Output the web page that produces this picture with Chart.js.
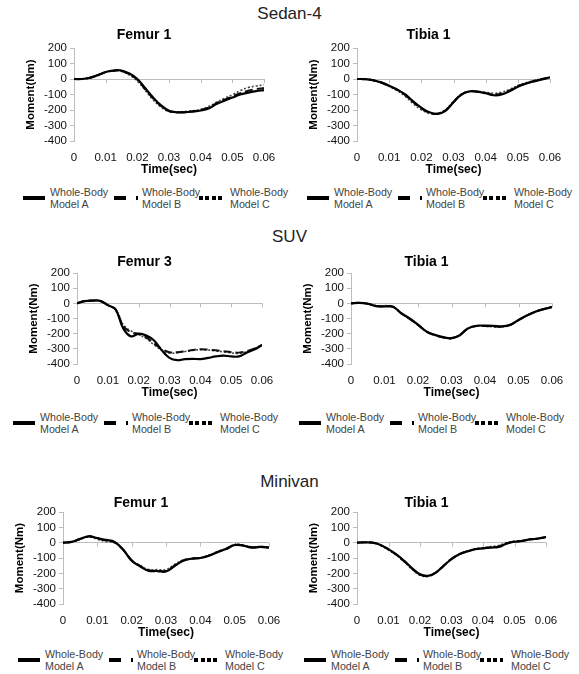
<!DOCTYPE html>
<html>
<head>
<meta charset="utf-8">
<script src="https://cdn.jsdelivr.net/npm/chart.js@4.4.1/dist/chart.umd.min.js"></script>
<style>
  body { margin: 0; background: #fff; width: 579px; height: 674px; position: relative; overflow: hidden;
         font-family: "Liberation Sans", Arial, sans-serif; }
  .group { position: absolute; left: 0; width: 579px; text-align: center; font-size: 17px; line-height: 20px; color: #222; }
  canvas { position: absolute; }
  .legend { position: absolute; font-size: 10.7px; line-height: 12px; color: #444; white-space: nowrap; }
  .legend .txt { position: absolute; top: 0; }
  .legend .sw { position: absolute; top: 10px; height: 4px; }
</style>
</head>
<body>
<script>
// time axis (sec) shared by every panel
const timeSec = [0, 0.0025, 0.005, 0.0075, 0.01, 0.0125, 0.015, 0.0175, 0.02, 0.0225, 0.025, 0.0275,
                 0.03, 0.0325, 0.035, 0.0375, 0.04, 0.0425, 0.045, 0.0475, 0.05, 0.0525, 0.055, 0.0575, 0.06];
const xTickValues = [0, 0.01, 0.02, 0.03, 0.04, 0.05, 0.06];
const xTickLabels = ['0', '0.01', '0.02', '0.03', '0.04', '0.05', '0.06'];
const yTickValues = [200, 100, 0, -100, -200, -300, -400];

const seriesLines = [['Whole-Body', 'Model A'], ['Whole-Body', 'Model B'], ['Whole-Body', 'Model C']];
const groupTitles = ['Sedan-4', 'SUV', 'Minivan'];
const panelTitles = ['Femur 1', 'Tibia 1', 'Femur 3', 'Tibia 1', 'Femur 1', 'Tibia 1'];

// moment (Nm)
const sedanFemurA = [0, 0, 8, 25, 45, 55, 55, 35, 0, -60, -120, -170, -205, -215, -215, -210, -203, -190, -162, -140, -120, -100, -88, -78, -72];
const sedanFemurB = [0, 0, 8, 24, 44, 53, 52, 30, -5, -66, -126, -174, -207, -215, -213, -208, -200, -185, -156, -133, -112, -92, -76, -66, -58];
const sedanFemurC = [0, 0, 7, 23, 43, 52, 50, 25, -12, -74, -134, -182, -210, -214, -210, -205, -196, -178, -150, -125, -102, -75, -55, -45, -38];

const sedanTibiaA = [0, -1, -8, -22, -43, -68, -100, -145, -185, -215, -225, -205, -150, -100, -80, -82, -92, -105, -100, -78, -50, -30, -15, -2, 10];
const sedanTibiaB = [0, -1, -8, -23, -45, -70, -103, -150, -190, -218, -224, -202, -148, -100, -80, -82, -90, -100, -95, -74, -47, -28, -13, 0, 10];
const sedanTibiaC = [0, -1, -9, -25, -48, -76, -112, -160, -198, -222, -222, -198, -145, -98, -80, -80, -86, -92, -85, -66, -42, -25, -10, 2, 12];

const suvFemurA = [0, 15, 18, 16, -12, -40, -165, -218, -200, -212, -245, -310, -360, -375, -368, -366, -368, -360, -350, -345, -350, -350, -325, -305, -275];
const suvFemurB = [0, 15, 18, 16, -12, -40, -150, -190, -202, -225, -265, -300, -322, -322, -316, -308, -302, -305, -310, -316, -322, -325, -316, -298, -275];
const suvFemurC = [0, 15, 18, 16, -12, -40, -140, -182, -206, -232, -274, -308, -328, -326, -318, -310, -305, -308, -313, -320, -327, -330, -320, -300, -275];

const suvTibiaA = [0, 3, -3, -18, -20, -22, -65, -100, -140, -185, -208, -223, -230, -210, -165, -148, -147, -148, -152, -142, -110, -80, -55, -38, -25];
const suvTibiaB = [0, 3, -3, -17, -21, -22, -66, -102, -142, -186, -210, -225, -230, -208, -163, -150, -150, -152, -154, -142, -110, -80, -56, -38, -24];
const suvTibiaC = [0, 3, -2, -16, -21, -23, -68, -104, -144, -188, -210, -224, -228, -206, -162, -148, -150, -155, -156, -144, -112, -80, -55, -36, -22];

const minivanFemurA = [0, 5, 25, 42, 30, 18, 5, -45, -117, -155, -184, -185, -188, -152, -118, -105, -100, -85, -62, -42, -15, -20, -32, -28, -33];
const minivanFemurB = [0, 5, 24, 40, 28, 14, 2, -45, -115, -152, -180, -182, -184, -150, -116, -104, -100, -84, -60, -40, -14, -18, -30, -27, -30];
const minivanFemurC = [0, 4, 22, 38, 22, 8, 0, -48, -115, -150, -176, -176, -176, -142, -112, -102, -98, -82, -58, -38, -12, -16, -28, -25, -30];

const minivanTibiaA = [0, 2, 0, -15, -43, -76, -119, -167, -206, -216, -195, -151, -108, -76, -58, -43, -37, -32, -28, -6, 6, 11, 22, 26, 37];
const minivanTibiaB = [0, 2, 0, -16, -45, -79, -122, -170, -208, -218, -196, -150, -106, -75, -56, -42, -36, -30, -24, -4, 7, 12, 22, 27, 36];
const minivanTibiaC = [0, 2, -1, -18, -48, -82, -126, -174, -212, -220, -194, -148, -104, -72, -54, -40, -33, -26, -18, 0, 10, 14, 24, 28, 38];

const panelSeries = [
  [sedanFemurA, sedanFemurB, sedanFemurC],
  [sedanTibiaA, sedanTibiaB, sedanTibiaC],
  [suvFemurA, suvFemurB, suvFemurC],
  [suvTibiaA, suvTibiaB, suvTibiaC],
  [minivanFemurA, minivanFemurB, minivanFemurC],
  [minivanTibiaA, minivanTibiaB, minivanTibiaC]
];

// page layout: plot box edges, title gap, legend spot
const groupTop = [4, 227, 472];
const panelBoxes = [
  { L: 74, R: 264, T: 48, B: 141, gap: 13, legX: 23, legY: 186 },
  { L: 357, R: 550, T: 48, B: 141, gap: 13, legX: 307, legY: 186 },
  { L: 77, R: 262, T: 273, B: 364, gap: 11, legX: 13, legY: 411 },
  { L: 351, R: 552, T: 273, B: 364, gap: 11, legX: 299, legY: 411 },
  { L: 63, R: 269, T: 512, B: 604, gap: 9, legX: 18, legY: 648 },
  { L: 357, R: 546, T: 512, B: 604, gap: 9, legX: 304, legY: 648 }
];
const Y_AXIS_W = 50, X_AXIS_H = 36, PAD_RIGHT = 16, TITLE_LH = 16.8;

const lineStyles = [
  { borderColor: '#000', borderWidth: 2.2, borderDash: [] },
  { borderColor: '#111', borderWidth: 2, borderDash: [8, 4] },
  { borderColor: '#444', borderWidth: 1.6, borderDash: [2, 2] }
];

// little tick marks hanging off the zero line, like Excel's crossing axis
const zeroTicks = {
  id: 'zeroTicks',
  beforeDatasetsDraw(chart) {
    const ctx = chart.ctx, xs = chart.scales.x, ys = chart.scales.y;
    const y0 = ys.getPixelForValue(0);
    ctx.save();
    ctx.strokeStyle = '#bdbdbd';
    ctx.lineWidth = 1;
    xTickValues.forEach(v => {
      const x = Math.round(xs.getPixelForValue(v)) + 0.5;
      ctx.beginPath();
      ctx.moveTo(x, y0);
      ctx.lineTo(x, y0 + 4);
      ctx.stroke();
    });
    ctx.restore();
  }
};

groupTitles.forEach((t, i) => {
  const d = document.createElement('div');
  d.className = 'group';
  d.style.top = groupTop[i] + 'px';
  d.textContent = t;
  document.body.appendChild(d);
});

function makeLegend(box) {
  const leg = document.createElement('div');
  leg.className = 'legend';
  leg.style.left = box.legX + 'px';
  leg.style.top = box.legY + 'px';
  const swX = [0, 91, 176], txtX = [27, 119, 207];
  seriesLines.forEach((lines, i) => {
    const sw = document.createElement('div');
    sw.className = 'sw';
    sw.style.left = swX[i] + 'px';
    if (i === 0) {
      sw.style.width = '22px';
      sw.style.background = '#000';
    } else if (i === 1) {
      sw.style.width = '24px';
      sw.style.background = 'linear-gradient(90deg,#000 0 12px,transparent 12px 22px,#000 22px 24px)';
    } else {
      sw.style.width = '23px';
      sw.style.background = 'repeating-linear-gradient(90deg,#000 0 4px,transparent 4px 6.5px)';
    }
    leg.appendChild(sw);
    const tx = document.createElement('div');
    tx.className = 'txt';
    tx.style.left = txtX[i] + 'px';
    tx.innerHTML = lines.join('<br>');
    leg.appendChild(tx);
  });
  document.body.appendChild(leg);
}

function makePanel(idx) {
  const box = panelBoxes[idx];
  const top = Math.round(box.T - box.gap - TITLE_LH / 2);
  const left = box.L - Y_AXIS_W;
  const w = box.R - box.L + Y_AXIS_W + PAD_RIGHT;
  const h = box.B - top + X_AXIS_H;
  const cv = document.createElement('canvas');
  cv.width = w; cv.height = h;
  cv.style.left = left + 'px';
  cv.style.top = top + 'px';
  cv.style.width = w + 'px';
  cv.style.height = h + 'px';
  document.body.appendChild(cv);

  const datasets = panelSeries[idx].map((vals, s) => Object.assign({
    label: seriesLines[s].join(' '),
    data: vals.map((v, k) => ({ x: timeSec[k], y: v })),
    pointRadius: 0,
    tension: 0.4,
    fill: false
  }, lineStyles[s]));

  new Chart(cv, {
    type: 'line',
    data: { datasets },
    plugins: [zeroTicks],
    options: {
      responsive: false,
      animation: false,
      layout: { padding: { top: 0, left: 0, right: PAD_RIGHT, bottom: 0 } },
      plugins: {
        legend: { display: false },
        tooltip: { enabled: false },
        title: {
          display: true,
          text: panelTitles[idx],
          color: '#000',
          font: { family: 'Liberation Sans', size: 14, weight: 'bold', lineHeight: 1.2 },
          padding: { top: 0, bottom: box.T - top - TITLE_LH }
        }
      },
      scales: {
        x: {
          type: 'linear',
          min: 0, max: 0.06,
          afterBuildTicks: s => { s.ticks = xTickValues.map(v => ({ value: v })); },
          afterFit: s => { s.height = X_AXIS_H; },
          grid: { display: false },
          border: { display: false },
          ticks: {
            color: '#111',
            padding: 2,
            autoSkip: false,
            maxRotation: 0,
            font: { family: 'Liberation Sans', size: 11.5 },
            callback: (v, i) => xTickLabels[i]
          },
          title: {
            display: true,
            text: 'Time(sec)',
            color: '#000',
            padding: 0,
            font: { family: 'Liberation Sans', size: 12, weight: 'bold', lineHeight: 1.2 }
          }
        },
        y: {
          min: -400, max: 200,
          afterBuildTicks: s => { s.ticks = yTickValues.map(v => ({ value: v })); },
          afterFit: s => { s.width = Y_AXIS_W; },
          grid: {
            color: c => (c.tick && c.tick.value === 0 ? '#bdbdbd' : 'rgba(0,0,0,0)'),
            tickColor: '#bdbdbd',
            tickLength: 4
          },
          border: { display: true, color: '#bdbdbd' },
          ticks: {
            color: '#111',
            padding: 3,
            autoSkip: false,
            font: { family: 'Liberation Sans', size: 11.5 }
          },
          title: {
            display: true,
            text: 'Moment(Nm)',
            color: '#000',
            padding: 0,
            font: { family: 'Liberation Sans', size: 11.5, weight: 'bold', lineHeight: 1.2 }
          }
        }
      }
    }
  });
  makeLegend(box);
}

panelBoxes.forEach((b, i) => makePanel(i));
</script>
</body>
</html>
